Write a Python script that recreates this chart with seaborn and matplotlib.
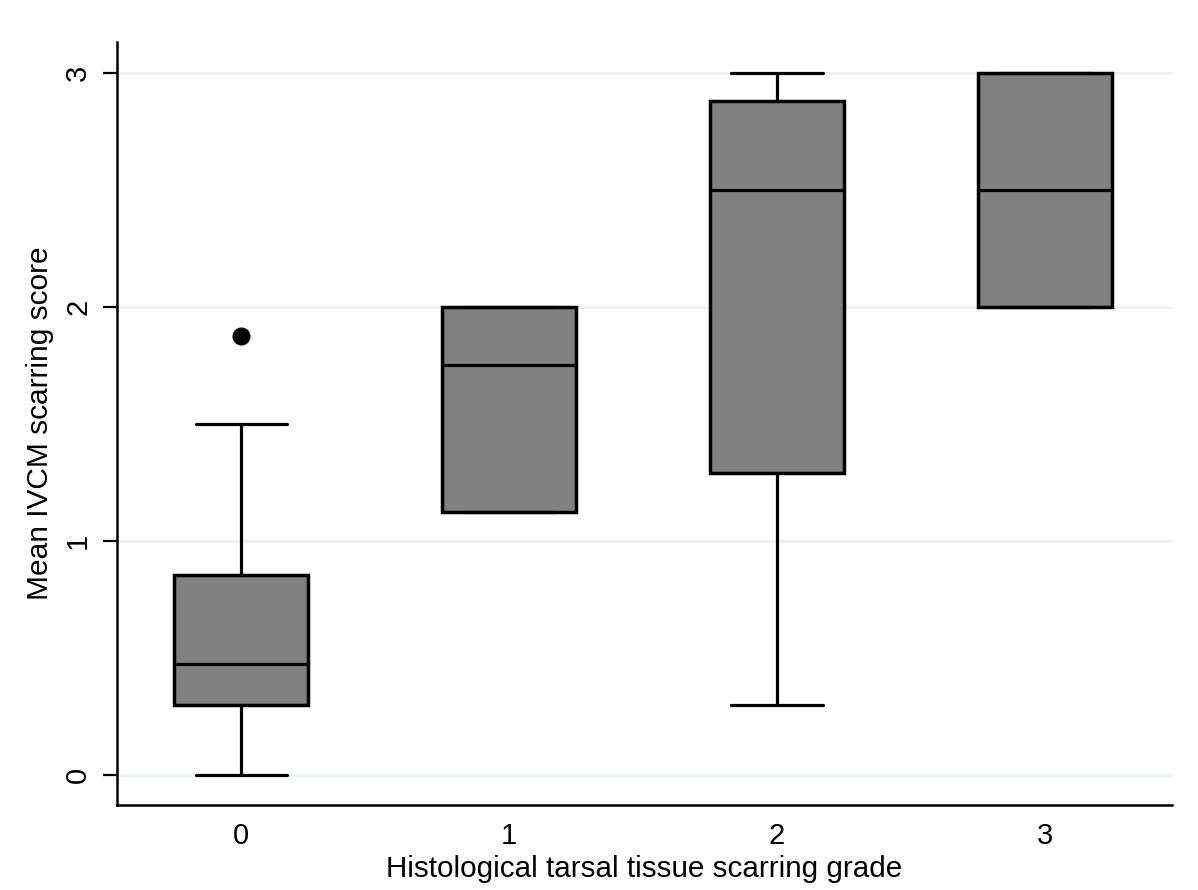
import pandas as pd
import matplotlib.pyplot as plt
import seaborn as sns
import numpy as np

# Box statistics (one entry per grade)
grades = ["0", "1", "2", "3"]
whisker_low = [0.0, 1.125, 0.30, 2.0]
q1 = [0.30, 1.125, 1.29, 2.0]
median = [0.475, 1.75, 2.5, 2.5]
q3 = [0.855, 2.0, 2.88, 3.0]
whisker_high = [1.5, 2.0, 3.0, 3.0]
outliers = [[1.875], [], [], []]

# Build a small table whose quartiles reproduce the stats above
rows = []
for i, g in enumerate(grades):
    vals = [whisker_low[i], q1[i], q1[i], median[i], median[i], q3[i], q3[i], whisker_high[i]] + outliers[i]
    for v in vals:
        rows.append({"grade": g, "score": v})
data = pd.DataFrame(rows)

sns.set_style("white")
plt.rcParams["font.family"] = ["Liberation Sans", "DejaVu Sans"]
plt.rcParams["text.color"] = "black"
plt.rcParams["axes.labelcolor"] = "black"
plt.rcParams["xtick.color"] = "black"
plt.rcParams["ytick.color"] = "black"

fig = plt.figure(figsize=(11.98, 8.90), dpi=100)
ax = fig.add_axes([0.0977, 0.0955, 0.8806, 0.8573])

sns.boxplot(data=data, x="grade", y="score", order=grades, ax=ax,
            color="#808080", saturation=1, linecolor="black", linewidth=2.5,
            width=0.5, whis=1.5, capwidths=0.34, fliersize=12,
            flierprops=dict(marker="o", markerfacecolor="black", markeredgecolor="black"),
            whiskerprops=dict(linewidth=2.3), capprops=dict(linewidth=2.3),
            medianprops=dict(linewidth=2.3))

ax.set_xlim(-0.463, 3.474)
ax.set_ylim(-0.128, 3.132)
ax.set_yticks([0, 1, 2, 3])
ax.set_yticklabels(["0", "1", "2", "3"], rotation=90, va="center")
ax.yaxis.grid(True, color="#EAF2F3", linewidth=2)
ax.xaxis.grid(False)
ax.set_axisbelow(True)

for side in ["top", "right"]:
    ax.spines[side].set_visible(False)
for side in ["left", "bottom"]:
    ax.spines[side].set_color("black")
    ax.spines[side].set_linewidth(1.8)

ax.tick_params(axis="y", left=True, length=10, width=1.6, color="black", pad=8, labelsize=21)
ax.tick_params(axis="x", bottom=False, length=0, pad=12, labelsize=21)

ax.set_xlabel("Histological tarsal tissue scarring grade", fontsize=21.3, labelpad=4)
ax.set_ylabel("Mean IVCM scarring score", fontsize=21.5, labelpad=7)

plt.savefig("out.png", dpi=100)
